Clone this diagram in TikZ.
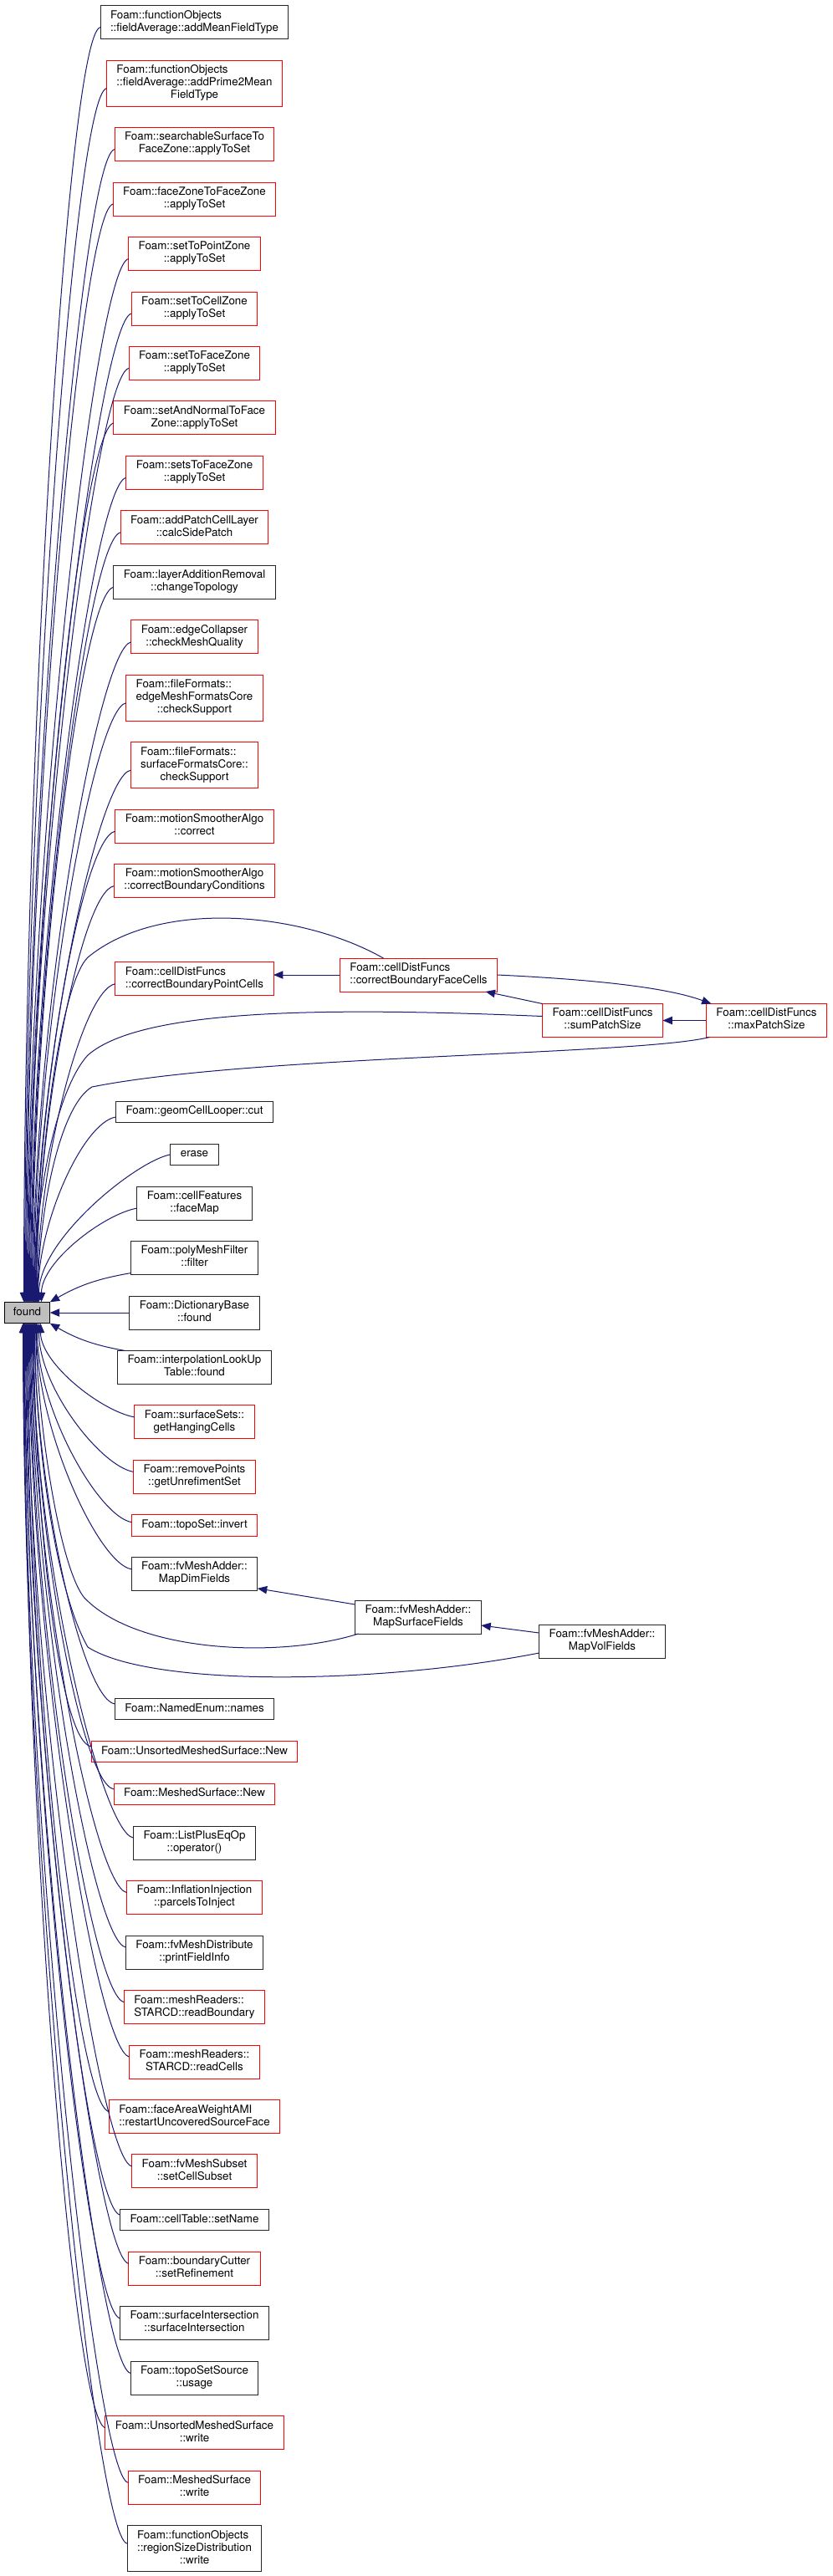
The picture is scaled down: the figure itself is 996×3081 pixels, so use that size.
\documentclass[tikz,border=0pt]{standalone}
\usepackage{fontspec}
\setmainfont{TeX Gyre Heros}
\usepackage{tikz}
\usetikzlibrary{arrows.meta, positioning, calc}
\definecolor{edgeblue}{HTML}{191970}
\newcommand{\jleft}{\hfill\null}
\newcommand{\jlines}[1]{\begin{tabular}{@{}c@{}}#1\end{tabular}}

\begin{document}
\begin{tikzpicture}[
  x=0.75pt, y=-0.75pt,
  node distance=19.1pt,
  every node/.style={font=\fontsize{10}{11.25}\selectfont, align=center},
  fn/.style    ={rectangle, draw=black!85, line width=0.75pt, fill=white,
                 inner xsep=9pt, inner ysep=0pt, outer sep=0pt, minimum height=30pt,
                 execute at begin node=\strut, execute at end node=\strut},
  fnred/.style ={fn, draw=red},
  hl/.style    ={fn, draw=black, fill=black!25, inner xsep=8pt, minimum height=19.1pt},
  lone/.style  ={minimum height=19.1pt},
  tall/.style  ={minimum height=41.25pt},
  arr/.style   ={-{Triangle[length=8.5pt, width=7pt]}, line width=0.75pt, edgeblue},
  fanup/.style ={arr, to path={let \p1=(\tikztostart), \p2=(\tikztotarget) in
                 .. controls +(190:30pt) and (\x2,{\y2+0.43*(\y1-\y2)}) .. (\tikztotarget)}},
  fandn/.style ={arr, to path={let \p1=(\tikztostart), \p2=(\tikztotarget) in
                 .. controls +(170:30pt) and (\x2,{\y2+0.43*(\y1-\y2)}) .. (\tikztotarget)}},
]
\useasboundingbox (0,0) rectangle (996,3081);

% The function
\node[hl] (found) at (32.5,1570) {found};

% Callers, upper half of the column
\node[fn] (dictbase) at (232.5,1570) {Foam::DictionaryBase\\::found};
\node[fn, above=of dictbase] (pmf) {Foam::polyMeshFilter\\::filter};
\node[fn, above=of pmf] (cellfeat) {Foam::cellFeatures\\::faceMap};
\node[fn, lone, above=of cellfeat] (erase) {erase};
\node[fn, lone, above=of erase] (cutter) {Foam::geomCellLooper::cut};
\node[fnred, above=94.9pt of cutter] (bpcells) {\jlines{Foam::cellDistFuncs\jleft\\::correctBoundaryPointCells}};
\node[fnred, above=57.75pt of bpcells] (corrbc) {Foam::motionSmootherAlgo\\::correctBoundaryConditions};
\node[fnred, above=of corrbc] (corr) {Foam::motionSmootherAlgo\\::correct};
\node[fnred, tall, above=of corr] (sfcheck) {\jlines{Foam::fileFormats::\jleft\\surfaceFormatsCore::\\checkSupport}};
\node[fnred, tall, above=of sfcheck] (emcheck) {\jlines{Foam::fileFormats::\jleft\\edgeMeshFormatsCore\\::checkSupport}};
\node[fnred, above=of emcheck] (quality) {Foam::edgeCollapser\\::checkMeshQuality};
\node[fn, above=of quality] (topo) {Foam::layerAdditionRemoval\\::changeTopology};
\node[fnred, above=of topo] (sidepatch) {Foam::addPatchCellLayer\\::calcSidePatch};
\node[fnred, above=of sidepatch] (setsfz) {Foam::setsToFaceZone\\::applyToSet};
\node[fnred, above=of setsfz] (normfz) {Foam::setAndNormalToFace\\Zone::applyToSet};
\node[fnred, above=of normfz] (setfz) {Foam::setToFaceZone\\::applyToSet};
\node[fnred, above=of setfz] (setcz) {Foam::setToCellZone\\::applyToSet};
\node[fnred, above=of setcz] (setpz) {Foam::setToPointZone\\::applyToSet};
\node[fnred, above=of setpz] (fzfz) {Foam::faceZoneToFaceZone\\::applyToSet};
\node[fnred, above=of fzfz] (ssfz) {Foam::searchableSurfaceTo\\FaceZone::applyToSet};
\node[fnred, tall, above=of ssfz] (prime) {\jlines{Foam::functionObjects\jleft\\::fieldAverage::addPrime2Mean\\FieldType}};
\node[fn, above=of prime] (mean) {\jlines{Foam::functionObjects\jleft\\::fieldAverage::addMeanFieldType}};

% Callers, lower half of the column
\node[fn, below=of dictbase] (lookup) {Foam::interpolationLookUp\\Table::found};
\node[fnred, below=of lookup] (hanging) {Foam::surfaceSets::\\getHangingCells};
\node[fnred, below=of hanging] (unrefine) {Foam::removePoints\\::getUnrefimentSet};
\node[fnred, lone, below=of unrefine] (invert) {Foam::topoSet::invert};
\node[fn, below=of invert] (mapdim) {Foam::fvMeshAdder::\\MapDimFields};
\node[fn, lone, below=96.4pt of mapdim] (names) {Foam::NamedEnum::names};
\node[fnred, lone, below=of names] (unsnew) {Foam::UnsortedMeshedSurface::New};
\node[fnred, lone, below=of unsnew] (mshnew) {Foam::MeshedSurface::New};
\node[fn, below=of mshnew] (pluseq) {Foam::ListPlusEqOp\\::operator()};
\node[fnred, below=of pluseq] (parcels) {Foam::InflationInjection\\::parcelsToInject};
\node[fn, below=of parcels] (fieldinfo) {Foam::fvMeshDistribute\\::printFieldInfo};
\node[fnred, below=of fieldinfo] (readbnd) {\jlines{Foam::meshReaders::\jleft\\STARCD::readBoundary}};
\node[fnred, below=of readbnd] (readcells) {Foam::meshReaders::\\STARCD::readCells};
\node[fnred, below=of readcells] (restart) {\jlines{Foam::faceAreaWeightAMI\jleft\\::restartUncoveredSourceFace}};
\node[fnred, below=of restart] (subset) {Foam::fvMeshSubset\\::setCellSubset};
\node[fn, lone, below=of subset] (setname) {Foam::cellTable::setName};
\node[fnred, below=of setname] (refine) {Foam::boundaryCutter\\::setRefinement};
\node[fn, below=of refine] (intersect) {Foam::surfaceIntersection\\::surfaceIntersection};
\node[fn, below=of intersect] (usage) {Foam::topoSetSource\\::usage};
\node[fnred, below=of usage] (unswrite) {Foam::UnsortedMeshedSurface\\::write};
\node[fnred, below=of unswrite] (mshwrite) {Foam::MeshedSurface\\::write};
\node[fn, tall, below=of mshwrite] (regwrite) {\jlines{Foam::functionObjects\jleft\\::regionSizeDistribution\\::write}};

% Indirect callers
\node[fnred] (bfcells) at (500.5,1166) {\jlines{Foam::cellDistFuncs\jleft\\::correctBoundaryFaceCells}};
\node[fnred] (sumsize) at (720.5,1220.5) {Foam::cellDistFuncs\\::sumPatchSize};
\node[fnred, right=39pt of sumsize] (maxsize) {Foam::cellDistFuncs\\::maxPatchSize};
\node[fn] (mapsurf) at (500,1934) {Foam::fvMeshAdder::\\MapSurfaceFields};
\node[fn] (mapvol) at (720,1963) {Foam::fvMeshAdder::\\MapVolFields};

% Edges into the top of found
\draw[fanup] ($(mean.west)+(0,6)$)      to ($(found.north)+(-4,0)$);
\draw[fanup] ($(prime.west)+(0,6)$)     to ($(found.north)+(-3,0)$);
\draw[fanup] ($(ssfz.west)+(0,6)$)      to ($(found.north)+(-2,0)$);
\draw[fanup] ($(fzfz.west)+(0,6)$)      to ($(found.north)+(-1,0)$);
\draw[fanup] ($(setpz.west)+(0,6)$)     to (found.north);
\draw[fanup] ($(setcz.west)+(0,6)$)     to ($(found.north)+(1,0)$);
\draw[fanup] ($(setfz.west)+(0,6)$)     to ($(found.north)+(2,0)$);
\draw[fanup] ($(normfz.west)+(0,6)$)    to ($(found.north)+(3,0)$);
\draw[fanup] ($(setsfz.west)+(0,6)$)    to ($(found.north)+(4,0)$);
\draw[fanup] ($(sidepatch.west)+(0,6)$) to ($(found.north)+(5,0)$);
\draw[fanup] ($(topo.west)+(0,6)$)      to ($(found.north)+(6,0)$);
\draw[fanup] ($(quality.west)+(0,6)$)   to ($(found.north)+(7,0)$);
\draw[fanup] ($(emcheck.west)+(0,6)$)   to ($(found.north)+(8,0)$);
\draw[fanup] ($(sfcheck.west)+(0,6)$)   to ($(found.north)+(9,0)$);
\draw[fanup] ($(corr.west)+(0,6)$)      to ($(found.north)+(10,0)$);
\draw[fanup] ($(corrbc.west)+(0,6)$)    to ($(found.north)+(11,0)$);
\draw[fanup] ($(bpcells.west)+(0,6)$)   to ($(found.north)+(12,0)$);
\draw[fanup] ($(cutter.west)+(0,6)$)    to ($(found.north)+(13,0)$);
\draw[fanup] (erase.west)               to ($(found.north)+(14,0)$);
\draw[fanup] ($(cellfeat.west)+(0,6)$)  to ($(found.north)+(17,0)$);
\draw[arr] ($(pmf.south west)+(0,-2)$) to[bend right=10] (found.north east);
\draw[arr] ($(bfcells.north west)+(52,0)$) .. controls (360,1090) and (190,1075) .. (105,1145)
           .. controls (70,1180) and (45,1400) .. ($(found.north)+(10,0)$);
\draw[arr] ($(sumsize.west)+(0,-5)$) .. controls (400,1205) and (170,1205) .. (105,1262)
           .. controls (70,1300) and (42,1420) .. ($(found.north)+(8,0)$);
\draw[arr] ($(maxsize.south west)+(4,0)$) .. controls (760,1262) and (300,1262) .. (110,1300)
           .. controls (75,1320) and (48,1430) .. ($(found.north)+(12,0)$);

% Side and bottom of found
\draw[arr] (dictbase.west) -- (found.east);
\draw[arr] ($(lookup.north west)+(9,0)$) to[bend left=10] (found.south east);
\draw[fandn] ($(hanging.west)+(0,-6)$)   to ($(found.south)+(16,0)$);
\draw[fandn] ($(unrefine.west)+(0,-6)$)  to ($(found.south)+(14,0)$);
\draw[fandn] ($(invert.west)+(0,-4)$)    to ($(found.south)+(12,0)$);
\draw[fandn] ($(mapdim.west)+(0,-6)$)    to ($(found.south)+(11,0)$);
\draw[fandn] ($(names.west)+(0,-6)$)     to ($(found.south)+(9,0)$);
\draw[fandn] ($(unsnew.west)+(0,-6)$)    to ($(found.south)+(8,0)$);
\draw[fandn] ($(mshnew.west)+(0,-6)$)    to ($(found.south)+(7,0)$);
\draw[fandn] ($(pluseq.west)+(0,-6)$)    to ($(found.south)+(6,0)$);
\draw[fandn] ($(parcels.west)+(0,-6)$)   to ($(found.south)+(5,0)$);
\draw[fandn] ($(fieldinfo.west)+(0,-6)$) to ($(found.south)+(4,0)$);
\draw[fandn] ($(readbnd.west)+(0,-6)$)   to ($(found.south)+(3,0)$);
\draw[fandn] ($(readcells.west)+(0,-6)$) to ($(found.south)+(2,0)$);
\draw[fandn] ($(restart.west)+(0,-6)$)   to ($(found.south)+(1,0)$);
\draw[fandn] ($(subset.west)+(0,-6)$)    to (found.south);
\draw[fandn] ($(setname.west)+(0,-6)$)   to ($(found.south)+(-1,0)$);
\draw[fandn] ($(refine.west)+(0,-6)$)    to ($(found.south)+(-2,0)$);
\draw[fandn] ($(intersect.west)+(0,-6)$) to ($(found.south)+(-3,0)$);
\draw[fandn] ($(usage.west)+(0,-6)$)     to ($(found.south)+(-3.5,0)$);
\draw[fandn] ($(unswrite.west)+(0,-6)$)  to ($(found.south)+(-4,0)$);
\draw[fandn] ($(mshwrite.west)+(0,-6)$)  to ($(found.south)+(-4.5,0)$);
\draw[fandn] ($(regwrite.west)+(0,-6)$)  to ($(found.south)+(-5,0)$);
\draw[arr] ($(mapsurf.south west)+(4,0)$) .. controls (330,1985) and (160,1975) .. (100,1910)
           .. controls (70,1870) and (45,1700) .. ($(found.south)+(10,0)$);
\draw[arr] ($(mapvol.west)+(0,14)$) .. controls (450,2015) and (180,2018) .. (105,1970)
           .. controls (65,1900) and (42,1720) .. ($(found.south)+(9,0)$);

% Between the indirect callers
\draw[arr] (bfcells.west) -- (bfcells.west -| bpcells.east);
\draw[arr] (bfcells.east) .. controls (720,1172) and (800,1182) .. ($(maxsize.north west)+(6,0)$);
\draw[arr] (sumsize.north west) -- ($(bfcells.south east)+(-14,0)$);
\draw[arr] (maxsize.west) -- (sumsize.east);
\draw[arr] ($(mapsurf.north west)+(0,5)$) -- ($(mapdim.south east)+(0,-3)$);
\draw[arr] ($(mapvol.north west)+(0,10)$) -- ($(mapsurf.east)+(0,10)$);

\end{tikzpicture}
\end{document}
